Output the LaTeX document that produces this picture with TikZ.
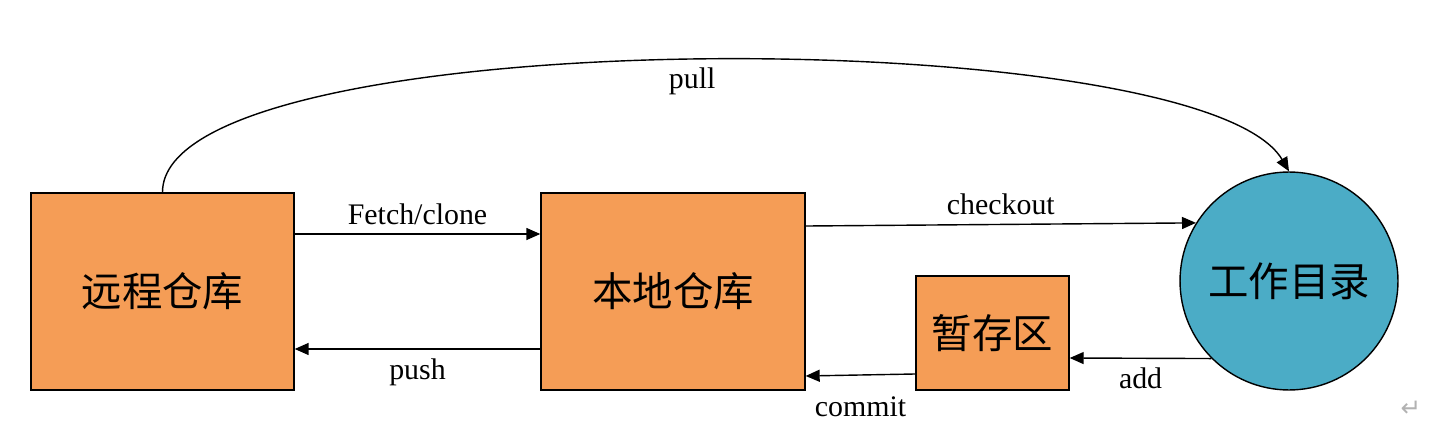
\documentclass[tikz,border=0pt]{standalone}
\usepackage{fontspec}
\setmainfont{Liberation Serif}
\newfontfamily\cjk{Noto Sans CJK SC}
\newfontfamily\symfont{DejaVu Sans}
\usetikzlibrary{arrows.meta}
\definecolor{repoorange}{HTML}{F59D56}
\definecolor{workblue}{HTML}{4BACC6}
\tikzset{
	repo/.style={draw=black, line width=0.8pt, fill=repoorange, font=\cjk\fontsize{23}{26}\selectfont},
	workdir/.style={draw=black, line width=0.8pt, fill=workblue, circle, inner sep=0pt, minimum size=4.36cm, font=\cjk\fontsize{23}{26}\selectfont},
	flow/.style={line width=0.8pt, -{Triangle[length=2.8mm,width=2.4mm]}},
	lbl/.style={font=\fontsize{17}{19}\selectfont, inner sep=2pt}
}
\begin{document}
\begin{tikzpicture}[x=0.02cm, y=-0.02cm]
			%%%%% START %%%%%
			\useasboundingbox (0, 0) rectangle (1440, 422);
			
			\node[repo, minimum width=5.26cm, minimum height=3.94cm] (remote) at (162.5, 291.5) {远程仓库};
			\node[repo, minimum width=5.28cm, minimum height=3.94cm] (local) at (673, 291.5) {本地仓库};
			\node[repo, minimum width=3.06cm, minimum height=2.28cm] (stage) at (992.5, 333) {暂存区};
			\node[workdir] (work) at (1289, 281) {工作目录};
			
			\draw[flow] ([yshift=1.15cm]remote.east) -- node[lbl, above=3pt] (fetchtxt) {Fetch/clone} ([yshift=1.15cm]local.west);
			\draw[flow] ([yshift=-1.15cm]local.west) -- node[lbl, below=3pt] (pushtxt) {push} ([yshift=-1.15cm]remote.east);
			
			\draw[flow] ([yshift=1.31cm]local.east) -- node[lbl, above=3pt] (checkouttxt) {checkout} (work.148);
			\draw[flow] (work.225) -- node[lbl, below=3pt] (addtxt) {add} ([yshift=-0.5cm]stage.east);
			\draw[flow] ([yshift=-0.82cm]stage.west) -- node[lbl, below=10pt] (committxt) {commit} ([yshift=-1.69cm]local.east);
			
			\draw[flow] (remote.north) .. controls (162, 20) and (1200, 20) .. node[lbl, below=2pt] (pulltxt) {pull} (work.north);
			
			\node[font=\symfont\fontsize{14}{16}\selectfont, color=black!30] (retmark) at (1411, 409) {↵};
			%%%%% END %%%%%
\end{tikzpicture}
\end{document}
